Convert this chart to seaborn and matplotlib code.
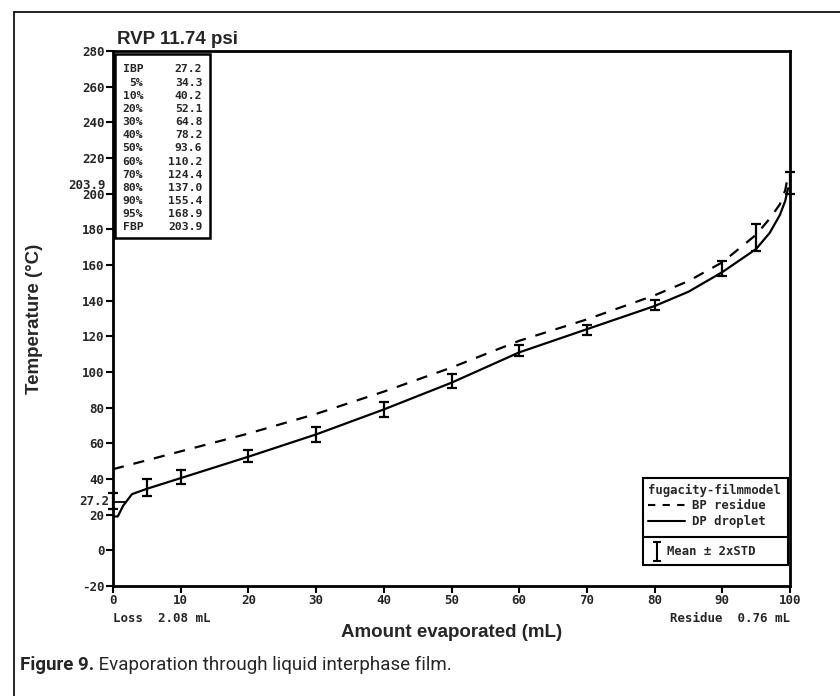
import numpy as np
import pandas as pd
import seaborn as sns
import matplotlib.pyplot as plt
from matplotlib.patches import Rectangle
from matplotlib.lines import Line2D

# model curves
bp_x = [0, 10, 20, 30, 40, 50, 60, 70, 80, 85, 90, 95, 97, 98.5, 99.3, 99.7]
bp_y = [45.5, 55.5, 65.5, 76.5, 89, 102.5, 117.5, 129.5, 143, 151, 161.5, 177, 186, 194, 202, 210]
dp_x = [0, 0.7, 1.5, 2.8, 5, 10, 15, 20, 30, 40, 50, 60, 70, 80, 85, 90, 95, 97, 98.5, 99.3, 99.7]
dp_y = [19, 19, 25, 31.5, 34.5, 40.5, 46.5, 52.5, 65, 79, 94, 111, 124, 137, 145, 156, 169, 178, 188, 196, 203]

# measured means with +/- 2xSTD
mean_x = [0, 5, 10, 20, 30, 40, 50, 60, 70, 80, 90, 95, 100]
mean_y = [27.5, 35.0, 41.2, 52.7, 65.2, 79.0, 94.7, 112.3, 123.8, 137.5, 158.0, 175.6, 206.0]
two_std = [4.5, 4.8, 3.9, 3.4, 4.2, 4.0, 3.9, 3.1, 2.8, 3.0, 4.2, 7.6, 6.0]

table_labels = ['IBP', '5%', '10%', '20%', '30%', '40%', '50%', '60%', '70%', '80%', '90%', '95%', 'FBP']
table_values = [27.2, 34.3, 40.2, 52.1, 64.8, 78.2, 93.6, 110.2, 124.4, 137.0, 155.4, 168.9, 203.9]

x_ticks = list(range(0, 101, 10))
y_ticks = list(range(-20, 281, 20))

sns.set_style('ticks')
plt.rcParams['font.family'] = ['Liberation Sans', 'DejaVu Sans']
mono = dict(family='DejaVu Sans Mono', weight='bold')

W, H = 840, 696
fig = plt.figure(figsize=(W / 100, H / 100), dpi=100)
ax = fig.add_axes([113 / W, 1 - 586 / H, 677 / W, 535 / H])

bp = pd.DataFrame({'x': bp_x, 'y': bp_y})
dp = pd.DataFrame({'x': dp_x, 'y': dp_y})
sns.lineplot(data=bp, x='x', y='y', ax=ax, color='black', lw=1.6, sort=False)
ax.lines[-1].set_dashes((5, 4.5))
sns.lineplot(data=dp, x='x', y='y', ax=ax, color='black', lw=1.6, sort=False)

ax.errorbar(mean_x, mean_y, yerr=two_std, fmt='none', ecolor='black',
            elinewidth=1.6, capsize=3.5, capthick=1.6, clip_on=False, zorder=5)

# IBP marker line
x_ibp = np.interp(table_values[0], dp_y[1:], dp_x[1:])
ax.plot([0, x_ibp], [table_values[0], table_values[0]], color='black', lw=1.3)

ax.set_xlim(0, 100)
ax.set_ylim(-20, 280)
ax.set_xticks(x_ticks)
ax.set_yticks(y_ticks)
ax.set_xticklabels([str(t) for t in x_ticks], fontdict=mono, fontsize=9)
ax.set_yticklabels([str(t) for t in y_ticks], fontdict=mono, fontsize=9)
ax.tick_params(axis='both', direction='out', length=5, width=1.5, pad=1, color='black')
for s in ax.spines.values():
    s.set_linewidth(2)
    s.set_color('black')

ax.set_xlabel('Amount evaporated (mL)', fontsize=13.5, fontweight='bold', labelpad=12)
ax.set_ylabel('Temperature (\u00b0C)', fontsize=13.5, fontweight='bold', labelpad=28)
ax.set_title('RVP 11.74 psi', loc='left', fontsize=13.5, fontweight='bold', pad=5, x=0.006)

# extra left labels
ax.annotate(f'{table_values[0]:.1f}', xy=(0, table_values[0]), xycoords=('axes fraction', 'data'),
            xytext=(-3, 0), textcoords='offset points', ha='right', va='center', fontsize=9, **mono)
ax.annotate(f'{table_values[-1]:.1f}', xy=(0, table_values[-1]), xycoords=('axes fraction', 'data'),
            xytext=(-5, 1), textcoords='offset points', ha='right', va='center', fontsize=9, **mono)

# loss / residue notes
ax.text(0, -0.048, 'Loss  2.08 mL', transform=ax.transAxes, ha='left', va='top', fontsize=9, **mono)
ax.text(1, -0.048, 'Residue  0.76 mL', transform=ax.transAxes, ha='right', va='top', fontsize=9, **mono)

# distillation table
ax.add_patch(Rectangle((0.003, 0.650), 0.140, 0.345, transform=ax.transAxes,
                       fill=True, facecolor='white', edgecolor='black', lw=1.8, zorder=6))
y0 = 0.9655
dy = 13.17 / 535
for i, (lab, val) in enumerate(zip(table_labels, table_values)):
    yy = y0 - i * dy
    ax.text(0.0445, yy, lab, transform=ax.transAxes, ha='right', va='center',
            fontsize=8.2, zorder=7, **mono)
    ax.text(0.132, yy, f'{val:.1f}', transform=ax.transAxes, ha='right', va='center',
            fontsize=8.2, zorder=7, **mono)

# legend box
ax.add_patch(Rectangle((0.783, 0.039), 0.214, 0.163, transform=ax.transAxes,
                       fill=True, facecolor='white', edgecolor='black', lw=1.5, zorder=6))
ax.add_line(Line2D([0.783, 0.997], [0.0916, 0.0916], transform=ax.transAxes, color='black', lw=1.5, zorder=7))
ax.text(0.790, 0.178, 'fugacity-filmmodel', transform=ax.transAxes, ha='left', va='center',
        fontsize=8.8, zorder=7, **mono)
ax.add_line(Line2D([0.790, 0.845], [0.151, 0.151], transform=ax.transAxes, color='black', lw=1.5,
                   dashes=(3.5, 3.5), zorder=7))
ax.text(0.855, 0.151, 'BP residue', transform=ax.transAxes, ha='left', va='center',
        fontsize=8.8, zorder=7, **mono)
ax.add_line(Line2D([0.790, 0.845], [0.121, 0.121], transform=ax.transAxes, color='black', lw=1.5, zorder=7))
ax.text(0.855, 0.121, 'DP droplet', transform=ax.transAxes, ha='left', va='center',
        fontsize=8.8, zorder=7, **mono)
ax.errorbar([0.804], [0.065], yerr=[[0.018], [0.018]], fmt='none', ecolor='black', elinewidth=1.5,
            capsize=3, capthick=1.5, transform=ax.transAxes, zorder=7, clip_on=False)
ax.text(0.818, 0.065, 'Mean \u00b1 2xSTD', transform=ax.transAxes, ha='left', va='center',
        fontsize=8.8, zorder=7, **mono)

# outer frame (cut at right and bottom)
fig.add_artist(Line2D([14 / W, 14 / W], [0, 1 - 12 / H], transform=fig.transFigure, color='black', lw=1.2))
fig.add_artist(Line2D([14 / W, 1], [1 - 12 / H, 1 - 12 / H], transform=fig.transFigure, color='black', lw=1.2))

# caption
cap_font = ['Roboto', 'Open Sans', 'DejaVu Sans']
t1 = fig.text(20 / W, 1 - 670 / H, 'Figure 9.', fontsize=13.5, fontweight='bold', family=cap_font,
              ha='left', va='baseline')
ax.annotate(' Evaporation through liquid interphase film.', xy=(1, 0), xycoords=t1,
            ha='left', va='bottom', fontsize=13.5, family=cap_font, annotation_clip=False)

fig.savefig('out.png', dpi=100)
